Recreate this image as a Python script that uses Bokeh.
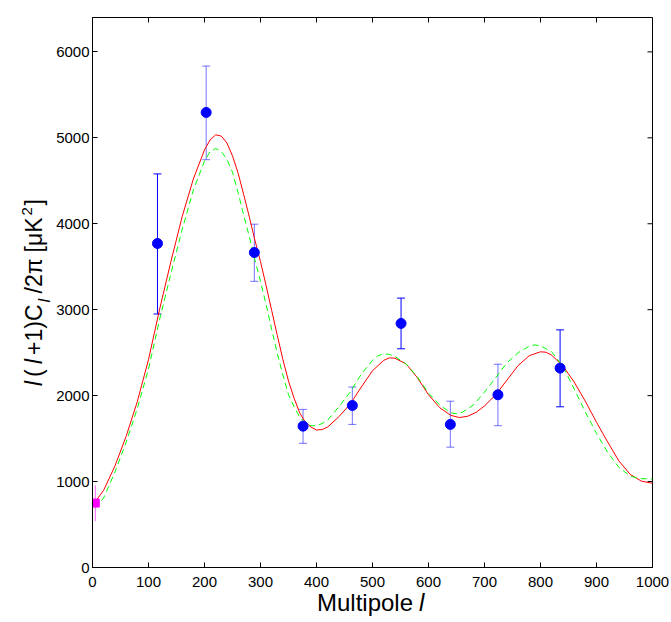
from bokeh.plotting import figure
from bokeh.models import ColumnDataSource, Whisker, TeeHead, Range1d, FixedTicker, Div
from bokeh.layouts import row, column
from bokeh.embed import file_html
from bokeh.resources import INLINE

# ---- data ----
# best-fit model (red, solid)
red_l = [5, 20, 40, 60, 80, 100, 120, 140, 160, 180, 200, 210, 220, 230, 240, 250,
         260, 270, 280, 290, 300, 310, 320, 330, 340, 350, 360, 370, 380, 390, 400,
         410, 420, 440, 460, 480, 500, 520, 530, 540, 560, 580, 600, 620, 640, 655,
         670, 685, 700, 720, 740, 760, 780, 800, 810, 820, 840, 860, 880, 900, 920,
         940, 960, 980, 1000]
red_cl = [765, 900, 1180, 1525, 1930, 2420, 3010, 3560, 4080, 4520, 4860, 4975, 5035,
          5020, 4940, 4790, 4590, 4340, 4080, 3810, 3560, 3280, 2990, 2700, 2420, 2170,
          1970, 1800, 1690, 1635, 1600, 1605, 1635, 1755, 1900, 2100, 2290, 2410, 2440,
          2435, 2370, 2210, 2010, 1860, 1770, 1745, 1760, 1805, 1880, 2010, 2180, 2350,
          2465, 2510, 2505, 2470, 2345, 2160, 1935, 1690, 1460, 1240, 1085, 1005, 980]

# alternative model (green, dashed)
green_l = [5, 20, 40, 60, 80, 100, 120, 140, 160, 180, 200, 210, 220, 230, 240, 250,
           260, 270, 280, 290, 300, 310, 320, 330, 340, 350, 360, 370, 380, 390, 400,
           410, 420, 440, 460, 480, 500, 510, 520, 530, 540, 560, 580, 600, 620, 640,
           650, 660, 680, 700, 720, 740, 760, 780, 790, 800, 820, 840, 860, 880, 900,
           920, 940, 960, 975, 1000]
green_cl = [690, 810, 1110, 1455, 1850, 2310, 2890, 3420, 3930, 4390, 4730, 4840, 4875,
            4840, 4750, 4600, 4360, 4100, 3850, 3580, 3330, 3060, 2770, 2490, 2240, 2010,
            1870, 1750, 1680, 1650, 1650, 1675, 1715, 1870, 2040, 2250, 2410, 2465, 2485,
            2480, 2455, 2370, 2220, 2030, 1890, 1800, 1790, 1805, 1890, 2040, 2210, 2380,
            2500, 2575, 2590, 2580, 2510, 2340, 2080, 1810, 1560, 1340, 1165, 1065, 1035,
            1030]

# band powers with error bars (blue)
band_l = [116, 203, 289, 376, 464, 551, 639, 724, 835]
band_cl = [3770, 5295, 3665, 1645, 1885, 2840, 1665, 2010, 2320]
band_hi = [4580, 5835, 3995, 1840, 2100, 3135, 1935, 2365, 2765]
band_lo = [2950, 4745, 3330, 1445, 1665, 2545, 1400, 1650, 1870]
band_solid = [True, False, False, False, False, True, False, False, True]

# low-multipole point (magenta)
low_l = [5]
low_cl = [750]
low_hi = [955]
low_lo = [540]

x_ticks = [0, 100, 200, 300, 400, 500, 600, 700, 800, 900, 1000]
y_ticks = [0, 1000, 2000, 3000, 4000, 5000, 6000]
X_MAX = 1000
Y_MAX = 6400

FONT = "Liberation Sans"

YLAB_W = 52
FIG_W = 671 - YLAB_W
FIG_H = 594
XLAB_H = 622 - FIG_H

p = figure(width=FIG_W, height=FIG_H, x_range=Range1d(0, X_MAX), y_range=Range1d(0, Y_MAX),
           output_backend="svg", toolbar_location=None,
           min_border_left=40, min_border_right=19, min_border_top=17, min_border_bottom=27)
p.grid.visible = False
p.outline_line_color = "black"
p.outline_line_width = 1
p.background_fill_color = "white"
p.border_fill_color = "white"

p.xaxis.ticker = FixedTicker(ticks=x_ticks)
p.yaxis.ticker = FixedTicker(ticks=y_ticks)
for ax, so in ((p.xaxis[0], 9), (p.yaxis[0], 3)):
    ax.axis_line_color = "black"
    ax.axis_line_width = 1
    ax.major_tick_in = 5
    ax.major_tick_out = 0
    ax.major_tick_line_color = "black"
    ax.minor_tick_line_color = None
    ax.major_label_text_font = FONT
    ax.major_label_text_font_size = "15px"
    ax.major_label_text_color = "black"
    ax.major_label_standoff = so

# inward ticks on the top and right edges of the box (5 px long)
frame_w_px = FIG_W - 40 - 19
frame_h_px = FIG_H - 17 - 27
tx = 5 * X_MAX / frame_w_px
ty = 5 * Y_MAX / frame_h_px
p.segment(x0=x_ticks, y0=[Y_MAX] * len(x_ticks), x1=x_ticks, y1=[Y_MAX - ty] * len(x_ticks),
          line_color="black", line_width=1)
p.segment(x0=[X_MAX] * len(y_ticks), y0=y_ticks, x1=[X_MAX - tx] * len(y_ticks), y1=y_ticks,
          line_color="black", line_width=1)

# model curves
p.line(red_l, red_cl, line_color="#ff0000", line_width=1)
p.line(green_l, green_cl, line_color="#00ff00", line_width=1, line_dash="6 4")

# error bars
solid = ColumnDataSource(dict(
    x=[l for l, s in zip(band_l, band_solid) if s],
    lo=[v for v, s in zip(band_lo, band_solid) if s],
    hi=[v for v, s in zip(band_hi, band_solid) if s]))
light = ColumnDataSource(dict(
    x=[l for l, s in zip(band_l, band_solid) if not s],
    lo=[v for v, s in zip(band_lo, band_solid) if not s],
    hi=[v for v, s in zip(band_hi, band_solid) if not s]))
for src, alpha in ((solid, 1.0), (light, 0.55)):
    w = Whisker(source=src, base="x", lower="lo", upper="hi",
                line_color="#0000ff", line_alpha=alpha, line_width=1,
                upper_head=TeeHead(size=8, line_color="#0000ff", line_alpha=alpha, line_width=1),
                lower_head=TeeHead(size=8, line_color="#0000ff", line_alpha=alpha, line_width=1))
    p.add_layout(w)

low_src = ColumnDataSource(dict(x=low_l, lo=low_lo, hi=low_hi))
p.add_layout(Whisker(source=low_src, base="x", lower="lo", upper="hi",
                     line_color="#ff00ff", line_alpha=0.6, line_width=1,
                     upper_head=None, lower_head=None))

p.scatter(band_l, band_cl, marker="circle", size=10, fill_color="#0000ff", line_color="#0000ff")
p.scatter(low_l, low_cl, marker="square", size=8, fill_color="#ff00ff", line_color="#ff00ff")

# ---- axis titles as HTML text (allows italic l, subscript, superscript) ----
def piece(txt, left, top, size, style="normal"):
    return ('<span style="position:absolute;left:%spx;top:%spx;font-size:%spx;'
            'font-style:%s;line-height:0;white-space:nowrap;">%s</span>'
            % (left, top, size, style, txt))

# y title, rotated, reading upward; pieces placed along the text direction
ypieces = "".join([
    piece("l", 0, 0, 23, "italic"),
    piece("(", 9, 0, 23),
    piece("l", 22, 0, 23, "italic"),
    piece("+1)C", 31, 0, 23),
    piece("l", 83.5, 10.9, 16, "italic"),
    piece("/2&pi;", 92.5, 0, 23),
    piece("[&mu;K", 133.5, 0, 23),
    piece("2", 170.5, -7.2, 15),
    piece("]", 180.5, 0, 23),
])
ylab_html = ('<div style="position:relative;width:%dpx;height:622px;font-family:\'%s\';color:#000;">'
             '<div style="position:absolute;left:33.5px;top:386px;width:0;height:0;'
             'transform-origin:0 0;transform:rotate(-90deg);">%s</div></div>'
             % (YLAB_W, FONT, ypieces))
ylab = Div(text=ylab_html, width=YLAB_W, height=622, margin=(0, 0, 0, 0))

xpieces = piece("Multipole", 265, 8.7, 24) + piece("l", 367, 8.7, 24, "italic")
xlab_html = ('<div style="position:relative;width:%dpx;height:%dpx;font-family:\'%s\';color:#000;">%s</div>'
             % (FIG_W, XLAB_H, FONT, xpieces))
xlab = Div(text=xlab_html, width=FIG_W, height=XLAB_H, margin=(0, 0, 0, 0))

layout = row(ylab, column(p, xlab, spacing=0), spacing=0)

open("out.html", "w").write(file_html(layout, INLINE))
